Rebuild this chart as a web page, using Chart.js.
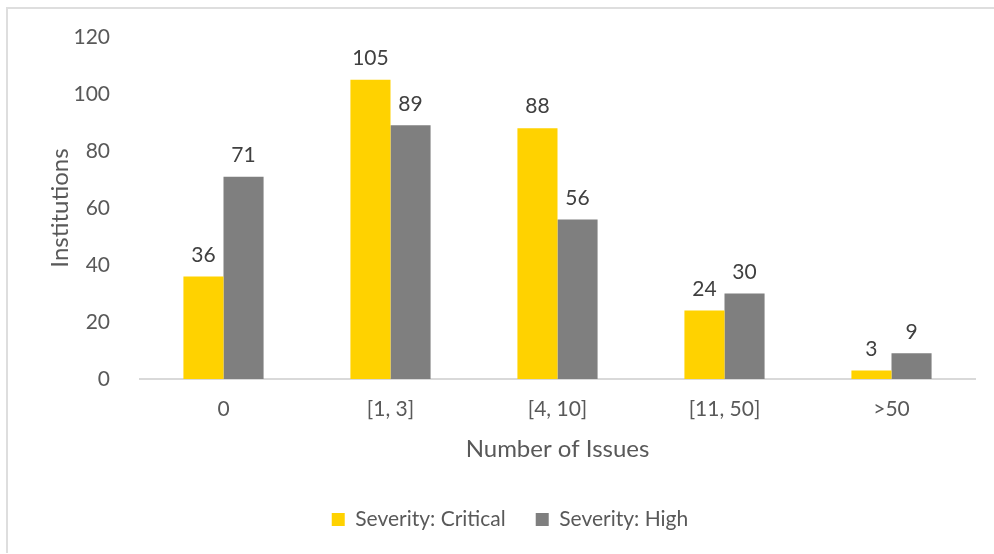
<!DOCTYPE html>
<html>
<head>
<meta charset="utf-8">
<script src="https://cdn.jsdelivr.net/npm/chart.js@4"></script>
<style>
  html, body { margin: 0; padding: 0; background: #fff; }
  #wrap { position: relative; width: 994px; height: 554px; overflow: hidden; }
  #frame { position: absolute; left: 6px; top: 7px; width: 1000px; height: 546px; border-left: 2px solid #dedede; border-top: 2px solid #dedede; box-sizing: border-box; }
  canvas { position: absolute; left: 0; top: 0; }
</style>
</head>
<body>
<div id="wrap">
  <div id="frame"></div>
  <canvas id="grafico" width="994" height="554"></canvas>
</div>
<script>
const categorias = ["0", "[1, 3]", "[4, 10]", "[11, 50]", ">50"];
const critica = [36, 105, 88, 24, 3];
const alta = [71, 89, 56, 30, 9];

const fuente = "'Lato', 'Open Sans', sans-serif";

// etiquetas de valor encima de cada barra
const etiquetasValor = {
    id: "etiquetasValor",
    afterDatasetsDraw(chart) {
        const ctx = chart.ctx;
        ctx.save();
        ctx.font = "21px " + fuente;
        ctx.fillStyle = "#404040";
        ctx.textAlign = "center";
        ctx.textBaseline = "bottom";
        chart.data.datasets.forEach((ds, i) => {
            chart.getDatasetMeta(i).data.forEach((bar, j) => {
                ctx.fillText(ds.data[j], bar.x, bar.y - 11);
            });
        });
        ctx.restore();
    }
};

new Chart(document.getElementById("grafico").getContext("2d"), {
    type: "bar",
    data: {
        labels: categorias,
        datasets: [
            { label: "Severity: Critical", data: critica, backgroundColor: "#FFD200" },
            { label: "Severity: High", data: alta, backgroundColor: "#7F7F7F" }
        ]
    },
    options: {
        responsive: false,
        animation: false,
        devicePixelRatio: 1,
        layout: { padding: { left: 45, right: 19, top: 37, bottom: 14 } },
        datasets: { bar: { categoryPercentage: 0.48, barPercentage: 1.0 } },
        plugins: {
            tooltip: { enabled: false },
            legend: {
                position: "bottom",
                labels: {
                    font: { family: fuente, size: 21 },
                    color: "#595959",
                    boxWidth: 13,
                    boxHeight: 13,
                    padding: 30
                }
            }
        },
        scales: {
            x: {
                grid: { display: false },
                border: { display: true, color: "#d9d9d9", width: 2 },
                ticks: { font: { family: fuente, size: 21 }, color: "#595959", padding: 10 },
                title: { display: true, text: "Number of Issues", font: { family: fuente, size: 24 }, color: "#595959", padding: { top: 6, bottom: 15 } },
                afterFit(scale) { scale.height = 100; }
            },
            y: {
                min: 0,
                max: 120,
                ticks: { stepSize: 20, font: { family: fuente, size: 21 }, color: "#595959", padding: 22 },
                grid: { display: false },
                border: { display: false },
                title: { display: true, text: "Institutions", font: { family: fuente, size: 24 }, color: "#595959", padding: { top: 1, bottom: 0 } },
                afterFit(scale) { scale.width = 95; }
            }
        }
    },
    plugins: [etiquetasValor]
});
</script>
</body>
</html>
